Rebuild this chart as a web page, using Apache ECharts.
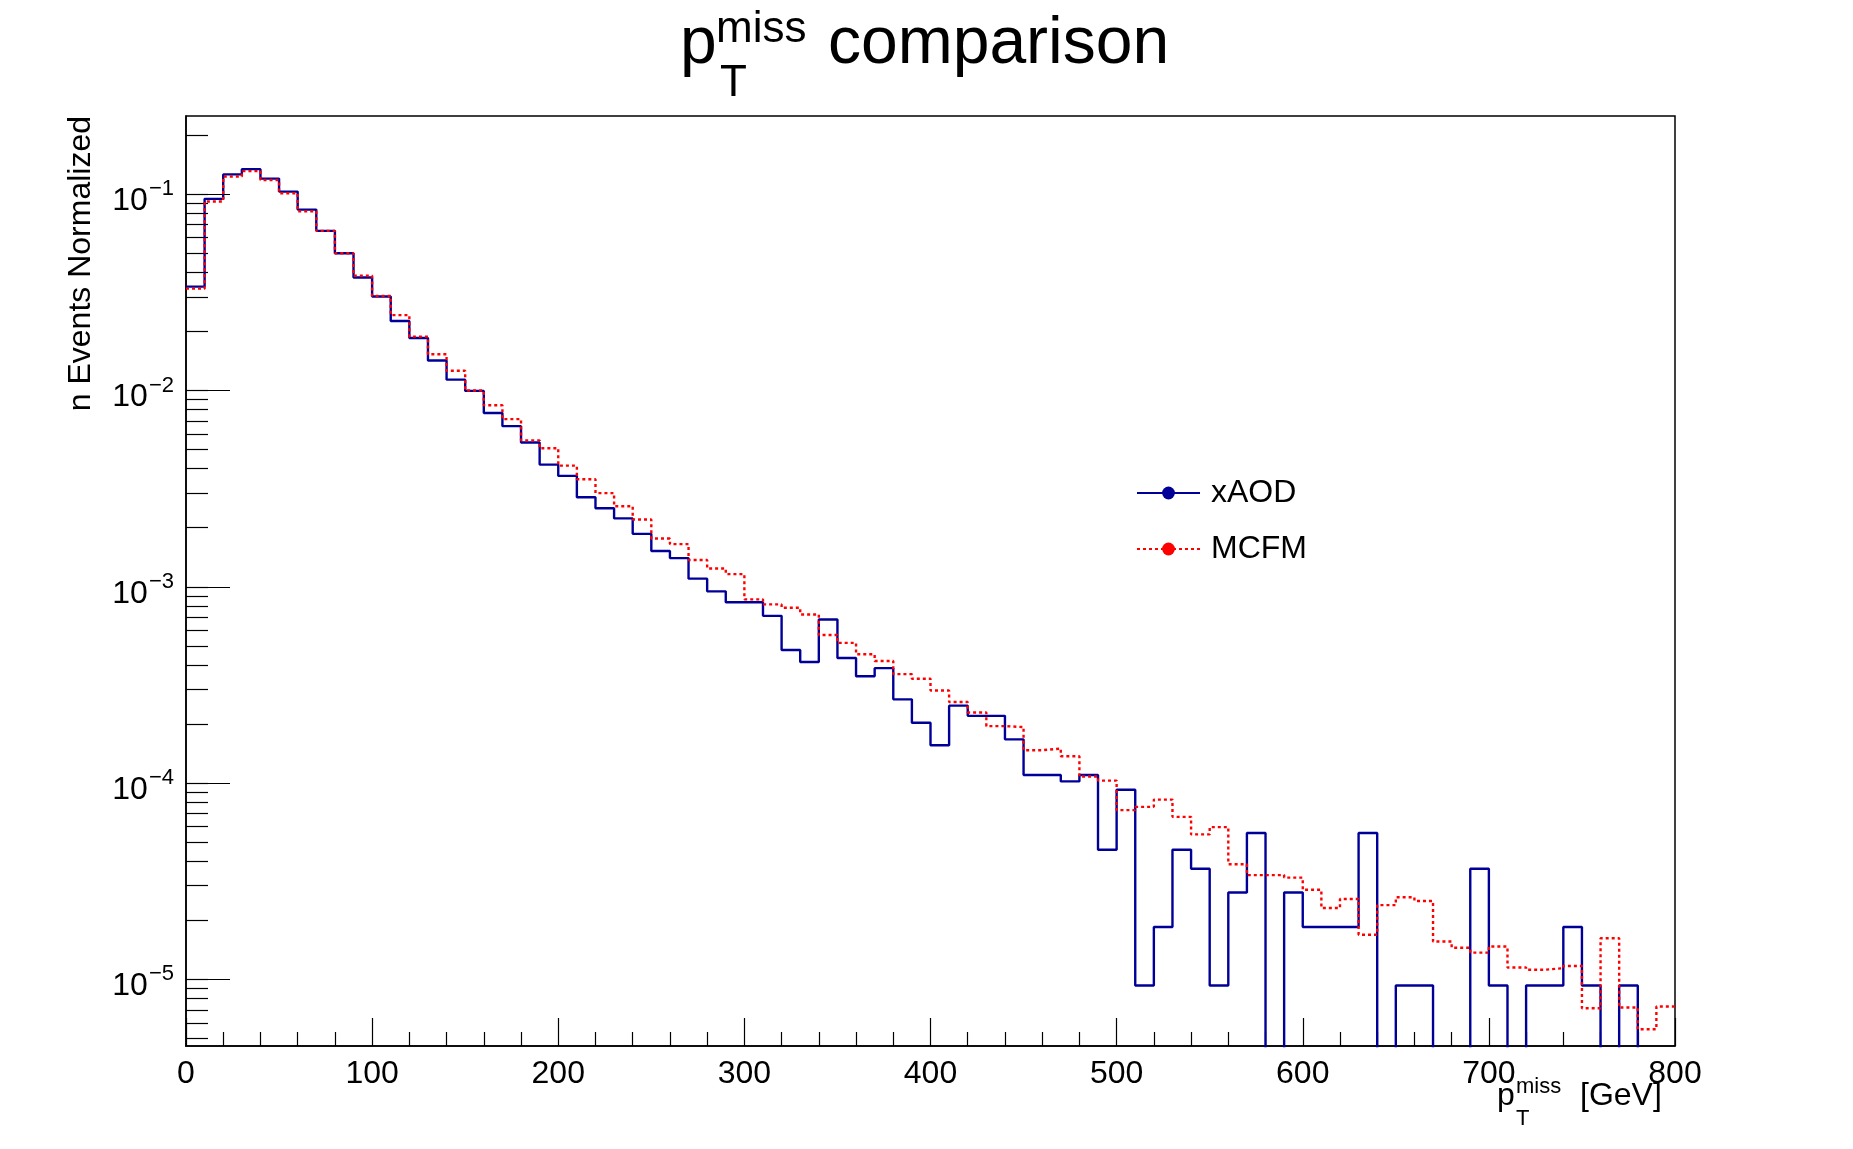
<!DOCTYPE html>
<html>
<head>
<meta charset="utf-8">
<script src="https://cdn.jsdelivr.net/npm/echarts@6/dist/echarts.min.js"></script>
<style>
  html,body{margin:0;padding:0;background:#fff;}
  #main{width:1853px;height:1149px;}
</style>
</head>
<body>
<div id="main"></div>
<script>
// bin low edges, GeV (80 bins of 10 GeV)
var binWidth = 10;
var binLow = [];
for (var b = 0; b < 80; b++) binLow.push(b * binWidth);

var xAOD = [
  0.0338, 0.0946, 0.126, 0.134, 0.120, 0.103, 0.0834, 0.065, 0.050, 0.0376,
  0.0301, 0.0226, 0.0185, 0.0142, 0.01135, 0.00995, 0.00767, 0.00658, 0.00543, 0.00419,
  0.00367, 0.00286, 0.00251, 0.00223, 0.00186, 0.00152, 0.00140, 0.00110, 0.000948, 0.000834,
  0.000834, 0.000711, 0.000476, 0.000414, 0.000681, 0.000434, 0.000350, 0.000385, 0.000267, 0.000203,
  0.000156, 0.000248, 0.000220, 0.000220, 0.000167, 0.000110, 0.000110, 0.000102, 0.000110, 4.58e-5,
  9.25e-5, 9.31e-6, 1.85e-5, 4.58e-5, 3.66e-5, 9.31e-6, 2.77e-5, 5.57e-5, 0, 2.77e-5,
  1.85e-5, 1.85e-5, 1.85e-5, 5.57e-5, 0, 9.31e-6, 9.31e-6, 0, 0, 3.66e-5,
  9.31e-6, 0, 9.31e-6, 9.31e-6, 1.85e-5, 9.31e-6, 0, 9.31e-6, 0, 0
];
var MCFM = [
  0.0330, 0.0917, 0.123, 0.131, 0.118, 0.101, 0.0817, 0.065, 0.050, 0.0384,
  0.0303, 0.0242, 0.0188, 0.0153, 0.0126, 0.0100, 0.0084, 0.00714, 0.00557, 0.00508,
  0.00414, 0.00353, 0.00300, 0.00257, 0.00220, 0.00176, 0.00165, 0.00137, 0.00124, 0.00116,
  0.000863, 0.000813, 0.000782, 0.000723, 0.000568, 0.000518, 0.000453, 0.000419, 0.000359, 0.000340,
  0.000296, 0.000259, 0.000229, 0.000195, 0.000193, 0.000147, 0.000150, 0.000137, 0.000108, 0.000103,
  7.28e-5, 7.57e-5, 8.24e-5, 6.73e-5, 5.48e-5, 5.97e-5, 3.86e-5, 3.40e-5, 3.40e-5, 3.30e-5,
  2.86e-5, 2.31e-5, 2.57e-5, 1.69e-5, 2.39e-5, 2.62e-5, 2.51e-5, 1.56e-5, 1.45e-5, 1.37e-5,
  1.47e-5, 1.15e-5, 1.12e-5, 1.14e-5, 1.17e-5, 7.13e-6, 1.62e-5, 7.19e-6, 5.57e-6, 7.28e-6
];
var yMin = 4.58e-6, yMax = 0.25;
var decadeTicks = [1e-5, 1e-4, 1e-3, 1e-2, 1e-1];
var xTicks = [0, 100, 200, 300, 400, 500, 600, 700, 800];

var minorTicks = [];
decadeTicks.concat([1e-6]).forEach(function(d){
  for (var m = 1; m <= 9; m++) {
    var v = d * m;
    if (v >= yMin && v <= yMax) minorTicks.push(v);
  }
});

// empty bins drop below the frame, as in a log histogram
function stepData(arr){
  var out = [];
  for (var i = 0; i < arr.length; i++) out.push([binLow[i], arr[i] > 0 ? arr[i] : 1e-9]);
  out.push([binLow[arr.length-1] + binWidth, out[out.length-1][1]]);
  return out;
}

var font = 'Liberation Sans';
var chart = echarts.init(document.getElementById('main'));
var option = {
  animation: false,
  backgroundColor: '#fff',
  grid: {left: 186, right: 178, top: 116, bottom: 103, show: true, borderColor: '#000', borderWidth: 1.5, containLabel: false},
  legend: {
    orient: 'vertical', left: 1131, top: 472, itemWidth: 63, itemHeight: 16, itemGap: 24,
    textStyle: {fontFamily: font, fontSize: 32, color: '#000', padding: [0,0,0,6]},
    data: ['xAOD', 'MCFM']
  },
  xAxis: {
    type: 'value', min: 0, max: 800, interval: 100,
    axisLine: {lineStyle: {color: '#000', width: 1.5}},
    axisTick: {inside: true, length: 28, lineStyle: {color: '#000', width: 1.2}},
    minorTick: {show: true, splitNumber: 5, length: 14, lineStyle: {color: '#000', width: 1.2}},
    axisLabel: {fontFamily: font, fontSize: 32, color: '#000', margin: 12,
      customValues: xTicks},
    splitLine: {show: false}
  },
  yAxis: [{
    type: 'log', min: yMin, max: yMax,
    axisLine: {show: true, lineStyle: {color: '#000', width: 1.5}},
    axisTick: {inside: true, length: 44, customValues: decadeTicks, lineStyle: {color: '#000', width: 1.2}},
    axisLabel: {
      customValues: decadeTicks, margin: 12, color: '#000',
      formatter: function(v){ return '{b|10}{s|\u2212' + Math.round(-Math.log10(v)) + '}'; },
      rich: {
        b: {fontFamily: font, fontSize: 32, color: '#000', padding: [14,0,0,0]},
        s: {fontFamily: font, fontSize: 22, color: '#000', padding: [0,0,10,1]}
      }
    },
    splitLine: {show: false}
  }, {
    type: 'log', min: yMin, max: yMax, position: 'left',
    axisLine: {show: false},
    axisTick: {inside: true, length: 22, customValues: minorTicks, lineStyle: {color: '#000', width: 1.2}},
    axisLabel: {show: false},
    splitLine: {show: false}
  }],
  series: [{
    name: 'xAOD', type: 'line', step: 'end', symbol: 'none', clip: true,
    color: '#000099',
    lineStyle: {color: '#000099', width: 2.4},
    data: stepData(xAOD)
  }, {
    name: 'MCFM', type: 'line', step: 'end', symbol: 'none', clip: true,
    color: '#ff0000',
    lineStyle: {color: '#ff0000', width: 2.4, type: [3, 3]},
    data: stepData(MCFM)
  }],
  graphic: [
    {type: 'text', left: 680, top: 12, style: {text: 'p', font: '66px "Liberation Sans"', fill: '#000'}},
    {type: 'text', left: 716, top: 8, style: {text: 'miss', font: '44px "Liberation Sans"', fill: '#000'}},
    {type: 'text', left: 720, top: 62, style: {text: 'T', font: '44px "Liberation Sans"', fill: '#000'}},
    {type: 'text', left: 828, top: 12, style: {text: 'comparison', font: '66px "Liberation Sans"', fill: '#000'}},
    {type: 'text', x: 81, y: 116, rotation: Math.PI / 2,
      style: {text: 'n Events Normalized', font: '32px "Liberation Sans"', fill: '#000', align: 'right', verticalAlign: 'middle'}},
    {type: 'text', left: 1497, top: 1080, style: {text: 'p', font: '32px "Liberation Sans"', fill: '#000'}},
    {type: 'text', left: 1516, top: 1076, style: {text: 'miss', font: '22px "Liberation Sans"', fill: '#000'}},
    {type: 'text', left: 1516, top: 1108, style: {text: 'T', font: '22px "Liberation Sans"', fill: '#000'}},
    {type: 'text', left: 1580, top: 1080, style: {text: '[GeV]', font: '32px "Liberation Sans"', fill: '#000'}}
  ]
};
chart.setOption(option);
</script>
</body>
</html>
